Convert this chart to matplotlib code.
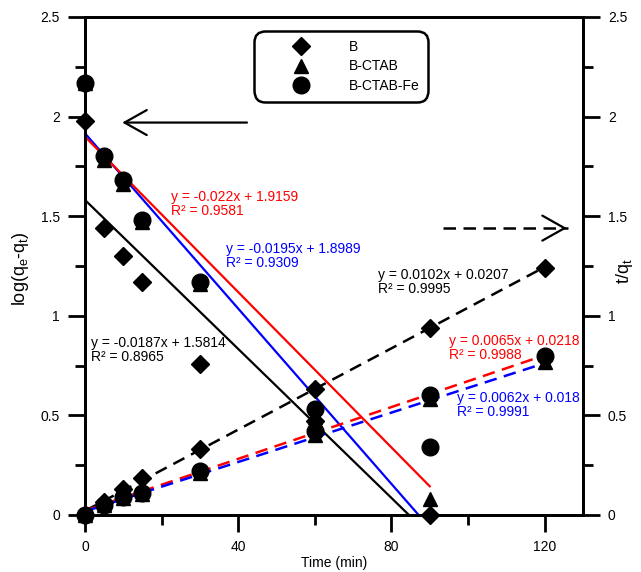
import numpy as np
import matplotlib
matplotlib.use('Agg')
import matplotlib.pyplot as plt
from matplotlib.lines import Line2D

plt.rcParams['font.family'] = ['Liberation Sans', 'DejaVu Sans']
plt.rcParams['font.size'] = 10
plt.rcParams['mathtext.default'] = 'regular'

# time points (min)
t_log = [0, 5, 10, 15, 30, 60, 90]
t_tq = [0, 5, 10, 15, 30, 60, 90, 120]

# log(qe-qt)
log_B = [1.98, 1.44, 1.30, 1.17, 0.76, 0.47, 0.0]
log_CTAB = [2.17, 1.78, 1.66, 1.47, 1.16, 0.49, 0.08]
log_Fe = [2.17, 1.80, 1.68, 1.48, 1.17, 0.53, 0.34]

# t/qt
tq_B = [0.0, 0.065, 0.13, 0.185, 0.33, 0.63, 0.94, 1.24]
tq_CTAB = [0.0, 0.05, 0.085, 0.105, 0.21, 0.40, 0.58, 0.77]
tq_Fe = [0.0, 0.05, 0.09, 0.11, 0.22, 0.42, 0.60, 0.80]

# fitted lines (slope, intercept, x end) as drawn in the figure
fit_log = {'black': (-0.0187, 1.5814, 84.6),
           'blue': (-0.022, 1.9159, 87.1),
           'red': (-0.0195, 1.8989, 90)}
fit_tq = {'black': (0.0102, 0.0207, 120),
          'red': (0.0065, 0.0218, 120),
          'blue': (0.0062, 0.018, 120)}

fig = plt.figure(figsize=(6.41, 5.72), dpi=100)
ax = fig.add_axes([0.1326, 0.0997, 0.7769, 0.8706])
ax2 = ax.twinx()

for c, (m, b, xe) in fit_log.items():
    xx = np.array([0, xe])
    ax.plot(xx, m * xx + b, color=c, lw=1.6)
for c, (m, b, xe) in fit_tq.items():
    xx = np.array([0, xe])
    ax.plot(xx, m * xx + b, color=c, lw=1.8, ls=(0, (5, 3)))

mk = dict(color='black', ls='none', clip_on=False, zorder=5)
ax.plot(t_log, log_CTAB, marker='^', ms=10, **mk)
ax.plot(t_log, log_Fe, marker='o', ms=12, **mk)
ax.plot(t_log, log_B, marker='D', ms=9, **mk)
ax.plot(t_tq, tq_CTAB, marker='^', ms=10, **mk)
ax.plot(t_tq, tq_Fe, marker='o', ms=12, **mk)
ax.plot(t_tq, tq_B, marker='D', ms=9, **mk)

ax.set_xlim(0, 130)
ax.set_ylim(0, 2.5)
ax2.set_ylim(0, 2.5)
ax.set_xticks([0, 40, 80, 120])
ax.set_xticks([20, 60, 100], minor=True)
ax.set_xticklabels(['0', '40', '80', '120'])
for a in (ax, ax2):
    a.set_yticks(np.arange(0, 2.51, 0.5))
    a.set_yticks(np.arange(0.25, 2.5, 0.5), minor=True)
    a.set_yticklabels(['0', '0.5', '1', '1.5', '2', '2.5'])
    a.tick_params(which='major', length=12, width=2, direction='out', labelsize=10, pad=6)
    a.tick_params(which='minor', length=7, width=2, direction='out')
    for s in a.spines.values():
        s.set_linewidth(2)

ax.set_xlabel('Time (min)', fontsize=10)
ax.xaxis.set_label_coords(0.5, -0.096)
ax.xaxis.label.set_va('center')
ax.set_ylabel('log(q$_e$-q$_t$)', fontsize=13)
ax.yaxis.set_label_coords(-0.13, 0.494)
ax.yaxis.label.set_va('center')
ax2.set_ylabel('t/q$_t$', fontsize=13)
ax2.yaxis.set_label_coords(1.084, 0.49)
ax2.yaxis.label.set_va('center')

# equations
ax.text(22.5, 1.63, 'y = -0.022x + 1.9159\nR² = 0.9581', color='red', va='top', linespacing=1.0)
ax.text(36.8, 1.37, 'y = -0.0195x + 1.8989\nR² = 0.9309', color='blue', va='top', linespacing=1.0)
ax.text(76.5, 1.24, 'y = 0.0102x + 0.0207\nR² = 0.9995', color='black', va='top', linespacing=1.0)
ax.text(1.5, 0.90, 'y = -0.0187x + 1.5814\nR² = 0.8965', color='black', va='top', linespacing=1.0)
ax.text(95, 0.91, 'y = 0.0065x + 0.0218\nR² = 0.9988', color='red', va='top', linespacing=1.0)
ax.text(97, 0.62, 'y = 0.0062x + 0.018\nR² = 0.9991', color='blue', va='top', linespacing=1.0)

# arrows
ax.annotate('', xy=(9.0, 1.97), xytext=(43, 1.97),
            arrowprops=dict(arrowstyle='->, head_length=1.6, head_width=0.9', color='black', lw=1.6))
ax.plot([93.4, 126], [1.44, 1.44], color='black', lw=1.8, ls=(0, (5, 3)))
ax.annotate('', xy=(126.5, 1.44), xytext=(124, 1.44),
            arrowprops=dict(arrowstyle='->, head_length=1.6, head_width=0.9', color='black', lw=1.6))

handles = [Line2D([], [], color='black', ls='none', marker='D', ms=9),
           Line2D([], [], color='black', ls='none', marker='^', ms=10),
           Line2D([], [], color='black', ls='none', marker='o', ms=12)]
leg = ax.legend(handles, ['B', 'B-CTAB', 'B-CTAB-Fe'], loc='upper left',
                bbox_to_anchor=(257 / 641, 1 - 34 / 572), bbox_transform=fig.transFigure,
                frameon=True, fancybox=True, framealpha=1, edgecolor='black',
                handlelength=5.6, handletextpad=0.65, borderpad=0.4, labelspacing=0.42,
                borderaxespad=0, fontsize=10)
leg.get_frame().set_linewidth(1.8)
leg.get_frame().set_boxstyle('round', pad=0.2, rounding_size=0.8)

fig.savefig('out.png', dpi=100)
